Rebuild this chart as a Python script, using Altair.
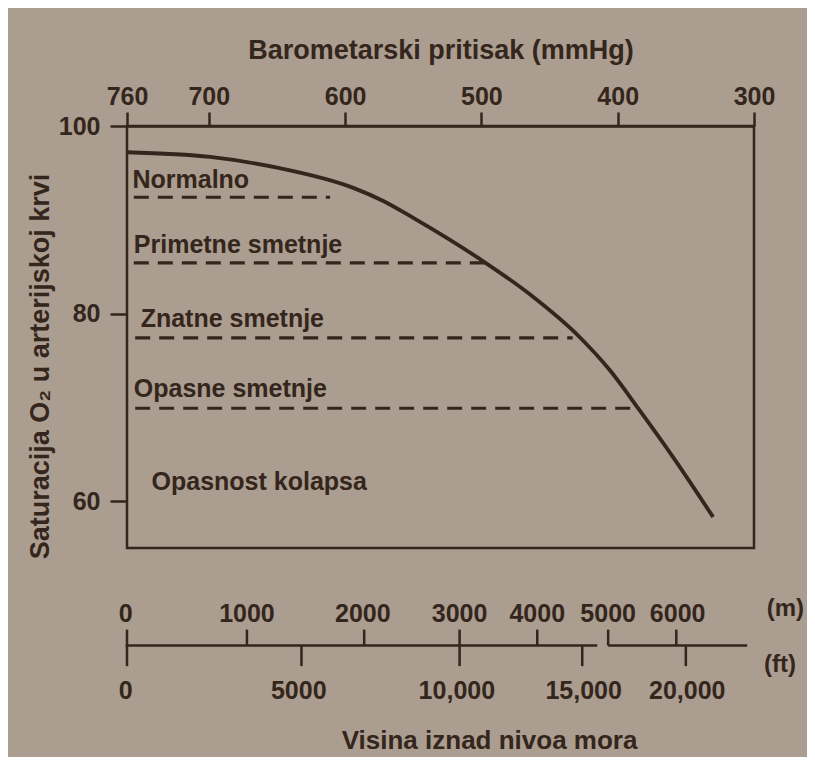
import altair as alt
import pandas as pd

# ---- data ----
pressure_curve = [760, 699, 648, 594, 572, 550, 501, 464, 428, 406, 384, 358, 330]
saturation_curve = [97.2, 96.7, 95.5, 93.4, 92.0, 90.2, 85.8, 82.0, 77.5, 74.0, 69.7, 64.4, 58.3]

top_ticks = [760, 700, 600, 500, 400, 300]
y_ticks = [60, 80, 100]

zone_labels = ["Normalno", "Primetne smetnje", "Znatne smetnje", "Opasne smetnje"]
zone_level = [92.4, 85.4, 77.4, 69.9]
zone_start = [755, 755, 754, 754]
zone_end = [611, 496, 433, 389]
zone_label_p = [756, 755, 750, 755]
zone_label_v = [94.2, 87.3, 79.4, 72.0]
collapse_label = ["Opasnost kolapsa"]
collapse_p = [742]
collapse_v = [62.0]

m_labels = ["0", "1000", "2000", "3000", "4000", "5000", "6000"]
m_tick_p = [760, 672, 586, 516, 459, 407, 357]
m_label_p = [761, 672, 587, 516, 459, 407, 356]
ft_labels = ["0", "5000", "10,000", "15,000", "20,000"]
ft_tick_p = [760, 632, 516, 426, 350]
ft_label_p = [761, 634, 518, 425, 349]
scale_line_start = [761, 407]
scale_line_end = [415, 305]
unit_labels = ["(m)", "(ft)"]
unit_p = [277, 281]
unit_v = [48.5, 42.5]
alt_title = ["Visina iznad nivoa mora"]
alt_title_p = [494]
alt_title_v = [34.4]

axis_v = 44.6
m_tick_top = 46.3
ft_tick_bottom = 42.4
m_label_v = 48.0
ft_label_v = 39.7

INK = "#34261c"
BG = "#ab9d8f"
FONT = "Liberation Sans"
FS = 25
TFS = 27

xs = alt.Scale(domain=[760, 300], zero=False, nice=False)
ys = alt.Scale(domain=[55, 100], zero=False, nice=False)

top_axis = alt.Axis(orient="top", values=top_ticks, tickSize=14, labelPadding=3,
                    tickWidth=2.5, domainWidth=2.5, grid=False, titlePadding=20,
                    labelFlush=False, labelOverlap=False)
left_axis = alt.Axis(orient="left", values=y_ticks, tickSize=17, labelPadding=10,
                     tickWidth=2.5, domain=False, grid=False, titlePadding=4,
                     titleY=240, labelFlush=False)

def X(field):
    return alt.X(field, type="quantitative", scale=xs, axis=top_axis,
                 title="Barometarski pritisak (mmHg)")

def Y(field):
    return alt.Y(field, type="quantitative", scale=ys, axis=left_axis,
                 title="Saturacija O\u2082 u arterijskoj krvi")

curve_df = pd.DataFrame({"p": pressure_curve, "v": saturation_curve})
zone_df = pd.DataFrame({"p": zone_start, "p2": zone_end, "v": zone_level,
                        "lp": zone_label_p, "lv": zone_label_v, "label": zone_labels})
collapse_df = pd.DataFrame({"p": collapse_p, "v": collapse_v, "label": collapse_label})

seg_df = pd.DataFrame({"p": scale_line_start, "p2": scale_line_end,
                       "v": [axis_v, axis_v]})
mt_df = pd.DataFrame({"p": m_tick_p, "v": [axis_v] * len(m_tick_p),
                      "v2": [m_tick_top] * len(m_tick_p)})
ft_df = pd.DataFrame({"p": ft_tick_p, "v": [axis_v] * len(ft_tick_p),
                      "v2": [ft_tick_bottom] * len(ft_tick_p)})
ml_df = pd.DataFrame({"p": m_label_p, "v": [m_label_v] * len(m_label_p), "label": m_labels})
fl_df = pd.DataFrame({"p": ft_label_p, "v": [ft_label_v] * len(ft_label_p), "label": ft_labels})
unit_df = pd.DataFrame({"p": unit_p, "v": unit_v, "label": unit_labels})
atitle_df = pd.DataFrame({"p": alt_title_p, "v": alt_title_v, "label": alt_title})

def txt(df, xf="p", yf="v", align="center", size=FS):
    return alt.Chart(df).mark_text(align=align, baseline="middle", font=FONT,
                                   fontSize=size, fontWeight="bold", color=INK).encode(
        x=X(xf), y=Y(yf), text="label")

curve = alt.Chart(curve_df).mark_line(color=INK, strokeWidth=3.8,
                                      interpolate="monotone").encode(
    x=X("p"), y=Y("v"))

dashes = alt.Chart(zone_df).mark_rule(color=INK, strokeWidth=3.2,
                                      strokeDash=[15, 9]).encode(
    x=X("p"), x2="p2", y=Y("v"))

zone_text = txt(zone_df, "lp", "lv", align="left", size=25)
collapse_text = txt(collapse_df, align="left", size=25)

seg = alt.Chart(seg_df).mark_rule(color=INK, strokeWidth=2.5).encode(
    x=X("p"), x2="p2", y=Y("v"))
mt = alt.Chart(mt_df).mark_rule(color=INK, strokeWidth=2.5).encode(
    x=X("p"), y=Y("v"), y2="v2")
ft = alt.Chart(ft_df).mark_rule(color=INK, strokeWidth=2.5).encode(
    x=X("p"), y=Y("v"), y2="v2")
ml = txt(ml_df)
fl = txt(fl_df)
units = txt(unit_df, size=24)
atitle = txt(atitle_df, size=26)

chart = alt.layer(curve, dashes, zone_text, collapse_text, seg, mt, ft, ml, fl,
                  units, atitle).properties(
    width=627, height=422,
    autosize=alt.AutoSizeParams(type="none"),
    padding={"left": 119, "top": 118, "right": 53, "bottom": 209},
    background=BG,
).configure_view(
    stroke=INK, strokeWidth=2.5, fill=None
).configure_axis(
    labelFont=FONT, titleFont=FONT, labelFontSize=FS, titleFontSize=TFS,
    labelColor=INK, titleColor=INK, tickColor=INK, domainColor=INK,
    labelFontWeight="bold", titleFontWeight="bold"
)

chart.save("out.html", embed_options={"renderer": "svg", "actions": False})
